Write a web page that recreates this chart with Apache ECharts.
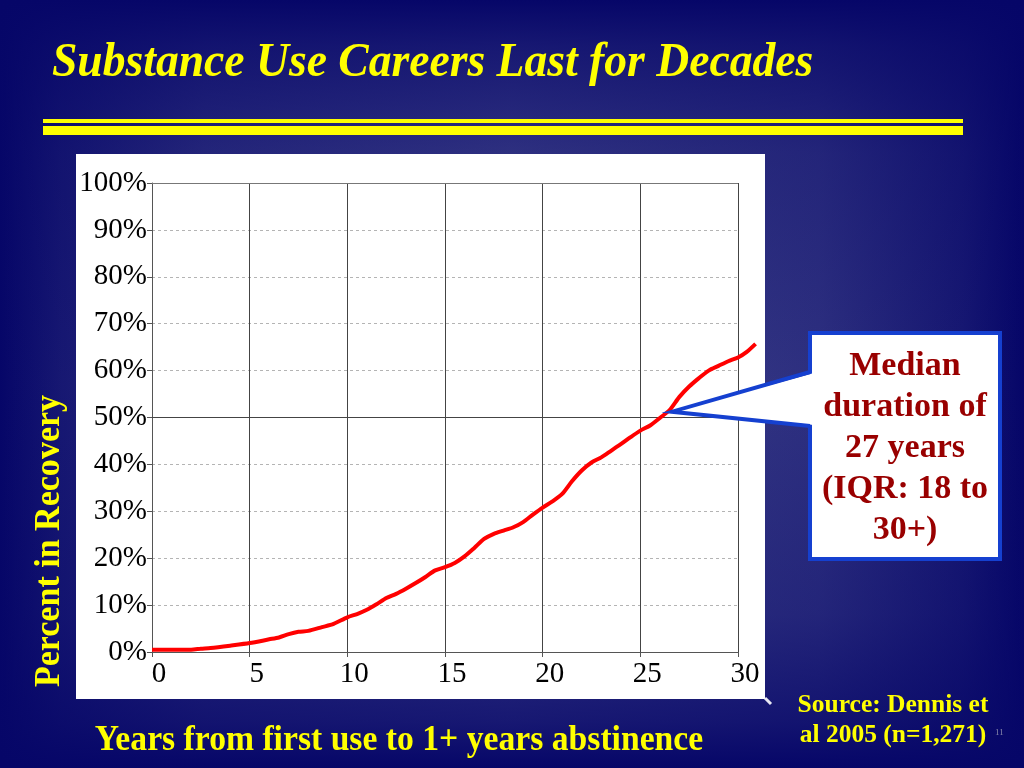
<!DOCTYPE html>
<html><head><meta charset="utf-8">
<script src="https://cdn.jsdelivr.net/npm/echarts@6/dist/echarts.min.js"></script>
<style>html,body{margin:0;padding:0;background:#0a0a6e}#c{width:1024px;height:768px}</style>
</head><body><div id="c"></div>
<script>
// ---- data ----
const years = [0, 1, 2, 2.5, 3, 4, 5, 6, 6.5, 7, 7.5, 8, 8.7, 9.3, 10, 10.5, 11, 11.5, 12, 12.5,
  13, 13.5, 14, 14.5, 15, 15.5, 16, 16.5, 17, 17.5, 18, 18.5, 19, 19.5, 20, 20.5, 21, 21.5, 22, 22.5,
  23, 23.5, 24, 24.5, 25, 25.5, 26, 26.5, 27, 27.5, 28, 28.5, 29, 29.5, 30, 30.45, 30.9];
const recovery = [0.5, 0.5, 0.5, 0.7, 0.85, 1.35, 1.9, 2.7, 3.1, 3.8, 4.3, 4.5, 5.3, 6.0, 7.4, 8.1, 9.0, 10.2, 11.5, 12.4,
  13.5, 14.7, 16.0, 17.4, 18.1, 19.0, 20.4, 22.2, 24.1, 25.2, 25.9, 26.6, 27.7, 29.3, 30.8, 32.1, 33.7, 36.4, 38.7, 40.4,
  41.5, 42.9, 44.3, 45.8, 47.2, 48.3, 49.9, 51.6, 54.4, 56.6, 58.4, 60.0, 61.0, 62.0, 62.8, 64.0, 65.7];
const xTickValues = [0, 5, 10, 15, 20, 25, 30];
const yTickValues = [0, 10, 20, 30, 40, 50, 60, 70, 80, 90, 100];
const yTickLabels = ['0%', '10%', '20%', '30%', '40%', '50%', '60%', '70%', '80%', '90%', '100%'];
const lastYear = 31;           // the curve runs a little past the last tick
const medianLine = 50;
const titleText = 'Substance Use Careers Last for Decades';
const xAxisTitle = 'Years from first use to 1+ years abstinence';
const yAxisTitle = 'Percent in Recovery';
const calloutLines = ['Median', 'duration of', '27 years', '(IQR: 18 to', '30+)'];
const sourceLines = ['Source: Dennis et', 'al 2005 (n=1,271)'];
const pageNumber = '11';

// ---- chart ----
const SERIF = "'Times New Roman', 'Liberation Serif', serif";
const BLUE = '#1540d0';
const xMin = xTickValues[0], xMax = xTickValues[xTickValues.length - 1];
const G = {left: 152, top: 183, width: 586, height: 469};
const chart = echarts.init(document.getElementById('c'), null, {renderer: 'canvas'});
const lin = (x, y, x2, y2, stops) => new echarts.graphic.LinearGradient(x, y, x2, y2, stops);
const shade = a => 'rgba(6,6,104,' + a + ')';
const edgeStops = [
  {offset: 0, color: shade(1)}, {offset: 0.06, color: shade(0.7)}, {offset: 0.2, color: shade(0.3)},
  {offset: 0.5, color: shade(0.05)}, {offset: 0.8, color: shade(0.3)}, {offset: 0.94, color: shade(0.7)},
  {offset: 1, color: shade(1)}];

const option = {
  backgroundColor: '#0a0a6e',
  animation: false,
  grid: [
    {left: G.left, top: G.top, width: G.width, height: G.height, show: false},
    // same scale per year, extended to lastYear so the curve can run past 30
    {left: G.left, top: G.top, width: G.width * (lastYear - xMin) / (xMax - xMin), height: G.height, show: false}
  ],
  xAxis: [{
    gridIndex: 0, type: 'value', min: xMin, max: xMax, interval: 5,
    axisLine: {show: true, lineStyle: {color: '#555', width: 1}},
    axisTick: {show: true, inside: false, length: 5, lineStyle: {color: '#555'}},
    axisLabel: {
      color: '#000', fontFamily: SERIF, fontSize: 29, margin: 8, padding: [0, 0, 0, 14],
      formatter: v => xTickValues.includes(v) ? String(v) : ''
    },
    splitLine: {show: true, lineStyle: {color: '#444', width: 1, type: 'solid'}}
  }, {
    gridIndex: 1, type: 'value', min: xMin, max: lastYear, show: false
  }],
  yAxis: [{
    gridIndex: 0, type: 'value', min: 0, max: 100, interval: 10,
    axisLine: {show: true, lineStyle: {color: '#555', width: 1}},
    axisTick: {show: true, inside: false, length: 5, lineStyle: {color: '#555'}},
    axisLabel: {
      color: '#000', fontFamily: SERIF, fontSize: 29, margin: 5,
      formatter: v => yTickLabels[yTickValues.indexOf(v)]
    },
    splitLine: {show: true, lineStyle: {color: '#b4b4b4', width: 1, type: [3, 3]}}
  }, {
    gridIndex: 1, type: 'value', min: 0, max: 100, show: false
  }],
  series: [{
    type: 'line',
    xAxisIndex: 0, yAxisIndex: 0,
    data: [],
    silent: true,
    markLine: {
      silent: true, symbol: 'none', label: {show: false},
      data: [
        {yAxis: medianLine, lineStyle: {color: '#444', width: 1, type: 'solid'}},
        {yAxis: 100, lineStyle: {color: '#777', width: 1, type: 'solid'}}
      ]
    }
  }, {
    type: 'line',
    xAxisIndex: 1, yAxisIndex: 1,
    data: years.map((x, i) => [x, recovery[i]]),
    showSymbol: false,
    smooth: 0.25,
    clip: false,
    lineStyle: {color: '#ff0000', width: 4},
    z: 5
  }],
  graphic: [
    // background
    {type: 'rect', z: -30, shape: {x: 0, y: 0, width: 1024, height: 768}, style: {fill: '#42458c'}, silent: true},
    {type: 'rect', z: -29, shape: {x: 0, y: 0, width: 1024, height: 768}, style: {fill: lin(0, 0, 1, 0, edgeStops)}, silent: true},
    {type: 'rect', z: -28, shape: {x: 0, y: 0, width: 1024, height: 768}, style: {fill: lin(0, 0, 0, 1, edgeStops)}, silent: true},
    // chart panel
    {type: 'rect', z: -20, shape: {x: 76, y: 154, width: 689, height: 545}, style: {fill: '#ffffff'}, silent: true},
    {type: 'line', z: -20, shape: {x1: 765, y1: 698, x2: 771, y2: 704}, style: {stroke: '#e8e8f4', lineWidth: 3}, silent: true},
    // title + rules
    {type: 'text', z: 10, x: 52, y: 64, scaleX: 0.95, style: {
      text: titleText, fill: '#ffff00', font: 'italic bold 48px ' + SERIF, textVerticalAlign: 'middle'}},
    {type: 'rect', z: 10, shape: {x: 43, y: 119, width: 920, height: 4}, style: {fill: '#ffff00'}},
    {type: 'rect', z: 10, shape: {x: 43, y: 126, width: 920, height: 9}, style: {fill: '#ffff00'}},
    // axis titles
    {type: 'text', z: 10, x: 50, y: 541, rotation: Math.PI / 2, scaleX: 0.945, style: {
      text: yAxisTitle, fill: '#ffff00', font: 'bold 36px ' + SERIF, textAlign: 'center', textVerticalAlign: 'middle'}},
    {type: 'text', z: 10, x: 399, y: 741, scaleX: 0.935, style: {
      text: xAxisTitle, fill: '#ffff00', font: 'bold 36px ' + SERIF, textAlign: 'center', textVerticalAlign: 'middle'}},
    // callout
    {type: 'rect', z: 100, shape: {x: 810, y: 333, width: 190, height: 226}, style: {fill: '#ffffff', stroke: BLUE, lineWidth: 4}},
    {type: 'polygon', z: 101, shape: {points: [[814, 373], [672, 411.7], [814, 425]]}, style: {fill: '#ffffff'}},
    {type: 'polyline', z: 102, shape: {points: [[810, 372], [672, 411.7], [810, 426]]}, style: {stroke: BLUE, lineWidth: 4, fill: null, lineJoin: 'miter'}},
    {type: 'text', z: 103, x: 905, y: 448, style: {
      text: calloutLines.join('\n'), fill: '#990000', font: 'bold 34px ' + SERIF, lineHeight: 41,
      textAlign: 'center', textVerticalAlign: 'middle'}},
    // source
    {type: 'text', z: 10, x: 893, y: 720, style: {
      text: sourceLines.join('\n'), fill: '#ffff00', font: 'bold 25.5px ' + SERIF, lineHeight: 30,
      textAlign: 'center', textVerticalAlign: 'middle'}},
    {type: 'text', z: 10, x: 995, y: 733, style: {
      text: pageNumber, fill: '#8888aa', font: '9px ' + SERIF, textVerticalAlign: 'middle'}}
  ]
};
chart.setOption(option);
</script>
</body></html>
